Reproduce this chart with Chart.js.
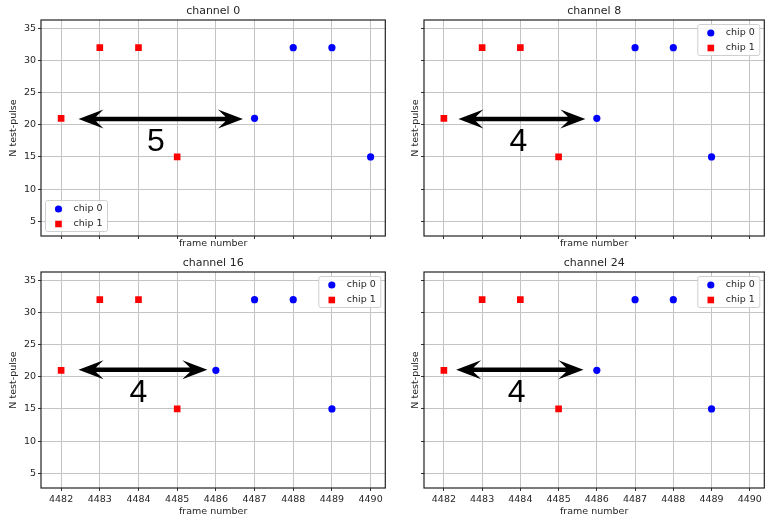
<!DOCTYPE html>
<html>
<head>
<meta charset="utf-8">
<script src="https://cdn.jsdelivr.net/npm/chart.js@4.4.1/dist/chart.umd.min.js"></script>
<style>
  body { margin: 0; background: #fff; }
  #wrap { position: relative; width: 769px; height: 515px; overflow: hidden; }
  #wrap canvas { position: absolute; }
</style>
</head>
<body>
<div id="wrap"></div>
<script>
// data
const channels = ['channel 0', 'channel 8', 'channel 16', 'channel 24'];
const xTicks = [4482, 4483, 4484, 4485, 4486, 4487, 4488, 4489, 4490];
const yTicks = [5, 10, 15, 20, 25, 30, 35];
const chip0Frames = [
    [4487, 4488, 4489, 4490],
    [4486, 4487, 4488, 4489],
    [4486, 4487, 4488, 4489],
    [4486, 4487, 4488, 4489]
];
const chip0Pulses = [21, 32, 32, 15];
const chip1Frames = [4482, 4483, 4484, 4485];
const chip1Pulses = [21, 32, 32, 15];

// arrow annotations (data units)
const arrowFrom = [4482.45, 4482.38, 4482.45, 4482.32];
const arrowTo = [4486.70, 4485.70, 4485.78, 4485.65];
const arrowY = [20.9, 20.9, 21.1, 21.1];
const gapText = ['5', '4', '4', '4'];
const gapTextX = [4484.45, 4483.95, 4484.0, 4483.9];
const gapTextY = [17.3, 17.3, 17.5, 17.5];
const legendCorner = ['lower left', 'upper right', 'upper right', 'upper right'];

const FONT = "'DejaVu Sans', sans-serif";
const TEXT = '#262626';

// panel placement: left, top, width, height
const panels = [
    [0, 0, 390, 258],
    [385, 0, 384, 258],
    [0, 252, 390, 263],
    [385, 252, 384, 263]
];

function drawArrow(ctx, x0, x1, y) {
    const hl = 25, hw = 9.5, sw = 2.3;
    ctx.save();
    ctx.fillStyle = '#000';
    ctx.beginPath();
    ctx.moveTo(x0, y);
    ctx.lineTo(x0 + hl, y - hw);
    ctx.quadraticCurveTo(x0 + hl * 0.78, y - sw - 2, x0 + hl * 0.7, y - sw);
    ctx.lineTo(x1 - hl * 0.7, y - sw);
    ctx.quadraticCurveTo(x1 - hl * 0.78, y - sw - 2, x1 - hl, y - hw);
    ctx.lineTo(x1, y);
    ctx.lineTo(x1 - hl, y + hw);
    ctx.quadraticCurveTo(x1 - hl * 0.78, y + sw + 2, x1 - hl * 0.7, y + sw);
    ctx.lineTo(x0 + hl * 0.7, y + sw);
    ctx.quadraticCurveTo(x0 + hl * 0.78, y + sw + 2, x0 + hl, y + hw);
    ctx.closePath();
    ctx.fill();
    ctx.restore();
}

function drawLegend(chart, corner) {
    const ctx = chart.ctx, a = chart.chartArea;
    const w = 62, h = 31;
    const x = corner === 'lower left' ? a.left + 4.5 : a.right - 4.5 - w;
    const y = corner === 'lower left' ? a.bottom - 4.5 - h : a.top + 4.5;
    ctx.save();
    ctx.beginPath();
    ctx.roundRect(x, y, w, h, 2);
    ctx.fillStyle = 'rgba(255,255,255,0.85)';
    ctx.fill();
    ctx.strokeStyle = '#d0d0d0';
    ctx.lineWidth = 1;
    ctx.stroke();
    chart.data.datasets.forEach((ds, i) => {
        const cy = y + 8.5 + i * 15;
        const cx = x + 13;
        ctx.fillStyle = ds.backgroundColor;
        ctx.beginPath();
        if (ds.pointStyle === 'rect') {
            ctx.rect(cx - 3.3, cy - 3.3, 6.6, 6.6);
        } else {
            ctx.arc(cx, cy, 3.6, 0, Math.PI * 2);
        }
        ctx.fill();
        ctx.fillStyle = TEXT;
        ctx.font = '9.5px ' + FONT;
        ctx.textAlign = 'left';
        ctx.textBaseline = 'middle';
        ctx.fillText(ds.label, x + 28, cy);
    });
    ctx.restore();
}

const decorations = {
    id: 'decorations',
    afterDatasetsDraw(chart) {
        const i = chart.options.panelIndex;
        const ctx = chart.ctx, a = chart.chartArea;
        const xs = chart.scales.x, ys = chart.scales.y;

        // arrow + gap label
        drawArrow(ctx, xs.getPixelForValue(arrowFrom[i]), xs.getPixelForValue(arrowTo[i]), ys.getPixelForValue(arrowY[i]));
        ctx.save();
        ctx.fillStyle = '#000';
        ctx.font = "32px 'Liberation Sans', Arial, sans-serif";
        ctx.textAlign = 'center';
        ctx.textBaseline = 'middle';
        ctx.fillText(gapText[i], xs.getPixelForValue(gapTextX[i]), ys.getPixelForValue(gapTextY[i]));
        ctx.restore();

        drawLegend(chart, legendCorner[i]);

        // axes frame
        ctx.save();
        ctx.strokeStyle = '#222';
        ctx.lineWidth = 1.2;
        ctx.strokeRect(a.left, a.top, a.right - a.left, a.bottom - a.top);
        // panel title
        ctx.fillStyle = TEXT;
        ctx.font = '11px ' + FONT;
        ctx.textAlign = 'center';
        ctx.textBaseline = 'middle';
        ctx.fillText(channels[i], (a.left + a.right) / 2, a.top - 8.5);
        ctx.restore();
    }
};

const wrap = document.getElementById('wrap');

panels.forEach((p, i) => {
    const leftCol = i % 2 === 0;
    const bottomRow = i >= 2;
    const canvas = document.createElement('canvas');
    canvas.width = p[2];
    canvas.height = p[3];
    canvas.style.left = p[0] + 'px';
    canvas.style.top = p[1] + 'px';
    wrap.appendChild(canvas);

    new Chart(canvas.getContext('2d'), {
        type: 'scatter',
        data: {
            datasets: [
                {
                    label: 'chip 0',
                    data: chip0Frames[i].map((f, k) => ({ x: f, y: chip0Pulses[k] })),
                    backgroundColor: '#0000ff',
                    borderWidth: 0,
                    pointStyle: 'circle',
                    pointRadius: 3.6
                },
                {
                    label: 'chip 1',
                    data: chip1Frames.map((f, k) => ({ x: f, y: chip1Pulses[k] })),
                    backgroundColor: '#ff0000',
                    borderWidth: 0,
                    pointStyle: 'rect',
                    pointRadius: 4.7
                }
            ]
        },
        options: {
            panelIndex: i,
            responsive: false,
            animation: false,
            devicePixelRatio: 1,
            layout: { padding: { top: 20, right: leftCol ? 4 : 1, left: 0, bottom: 0 } },
            plugins: { legend: { display: false }, tooltip: { enabled: false } },
            scales: {
                x: {
                    type: 'linear',
                    min: 4481.48,
                    max: 4490.38,
                    afterBuildTicks: s => { s.ticks = xTicks.map(v => ({ value: v })); },
                    afterFit: s => { s.height = bottomRow ? 27 : 22; },
                    ticks: {
                        display: bottomRow,
                        autoSkip: false,
                        maxRotation: 0,
                        padding: 3,
                        color: TEXT,
                        font: { family: FONT, size: 9.5 },
                        callback: v => String(v)
                    },
                    grid: { color: '#c4c4c4', tickColor: '#333', tickLength: 3 },
                    border: { display: false },
                    title: {
                        display: true,
                        text: 'frame number',
                        color: TEXT,
                        font: { family: FONT, size: 9.5, lineHeight: bottomRow ? 0.75 : 1 },
                        padding: { top: 0, bottom: bottomRow ? 0 : 9.5 }
                    }
                },
                y: {
                    type: 'linear',
                    min: 2.7,
                    max: 36.3,
                    afterBuildTicks: s => { s.ticks = yTicks.map(v => ({ value: v })); },
                    afterFit: s => { s.width = leftCol ? 41 : 39; },
                    ticks: {
                        display: leftCol,
                        padding: 2,
                        color: TEXT,
                        font: { family: FONT, size: 9.5 },
                        callback: v => String(v)
                    },
                    grid: { color: '#c4c4c4', tickColor: '#333', tickLength: 3 },
                    border: { display: false },
                    title: {
                        display: true,
                        text: 'N test-pulse',
                        color: TEXT,
                        font: { family: FONT, size: 9.5, lineHeight: 1 },
                        padding: { top: leftCol ? 9 : 26, bottom: 0 }
                    }
                }
            }
        },
        plugins: [decorations]
    });
});
</script>
</body>
</html>
